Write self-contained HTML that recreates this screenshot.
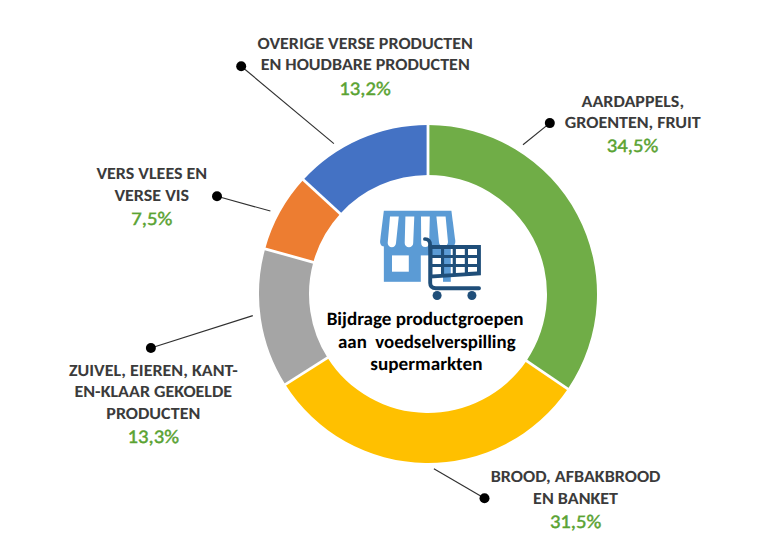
<!DOCTYPE html>
<html><head><meta charset="utf-8"><title>Bijdrage productgroepen aan voedselverspilling supermarkten</title>
<style>
html,body{margin:0;padding:0;background:#fff;}
body{width:768px;height:540px;overflow:hidden;}
svg{display:block;}
.lb{font-family:"Carlito","Liberation Sans",sans-serif;font-weight:bold;font-size:17.10px;fill:#3b3b3b;text-anchor:middle;text-rendering:geometricPrecision;}
.pc{font-family:"Carlito","Liberation Sans",sans-serif;font-weight:normal;font-size:19.3px;fill:#5AA332;stroke:#5AA332;stroke-width:0.45px;text-anchor:middle;text-rendering:geometricPrecision;}
.ct{font-family:"Carlito","Liberation Sans",sans-serif;font-weight:bold;font-size:18.82px;fill:#000;text-anchor:middle;white-space:pre;text-rendering:geometricPrecision;}
</style></head>
<body>
<svg width="768" height="540" viewBox="0 0 768 540">
<rect width="768" height="540" fill="#fff"/>
<!-- donut -->
<g>
<path fill="#70AD47" d="M428.00,125.00 A169,169 0 0 1 567.78,388.99 L526.42,360.89 A119,119 0 0 0 428.00,175.00 Z"/>
<path fill="#FFC000" d="M567.78,388.99 A169,169 0 0 1 285.31,384.55 L327.52,357.76 A119,119 0 0 0 526.42,360.89 Z"/>
<path fill="#A5A5A5" d="M285.31,384.55 A169,169 0 0 1 265.13,248.89 L313.32,262.24 A119,119 0 0 0 327.52,357.76 Z"/>
<path fill="#ED7D31" d="M265.13,248.89 A169,169 0 0 1 303.36,179.87 L340.24,213.64 A119,119 0 0 0 313.32,262.24 Z"/>
<path fill="#4472C4" d="M303.36,179.87 A169,169 0 0 1 428.00,125.00 L428.00,175.00 A119,119 0 0 0 340.24,213.64 Z"/>
<g stroke="#fff" stroke-width="2.8">
<line x1="428.00" y1="122.00" x2="428.00" y2="178.00"/>
<line x1="570.26" y1="390.68" x2="523.94" y2="359.20"/>
<line x1="282.78" y1="386.16" x2="330.06" y2="356.16"/>
<line x1="262.24" y1="248.09" x2="316.21" y2="263.04"/>
<line x1="301.15" y1="177.84" x2="342.45" y2="215.66"/>
</g>
</g>
<!-- leader lines -->
<g stroke="#303030" stroke-width="1.15" fill="none">
<line x1="241.2" y1="66.2" x2="333.9" y2="143.6"/>
<line x1="549.8" y1="123.1" x2="523" y2="144.7"/>
<line x1="217" y1="196.3" x2="270.4" y2="211"/>
<line x1="150.9" y1="348" x2="252.8" y2="315.6"/>
<line x1="484.5" y1="498.3" x2="433.9" y2="468.8"/>
</g>
<g fill="#000">
<circle cx="241.2" cy="66.2" r="5"/>
<circle cx="549.8" cy="123.1" r="5"/>
<circle cx="217" cy="196.3" r="5"/>
<circle cx="150.9" cy="348" r="5"/>
<circle cx="484.5" cy="498.3" r="5"/>
</g>
<!-- labels -->
<text class="lb" x="365.2" y="48.8" textLength="215.27" lengthAdjust="spacingAndGlyphs">OVERIGE VERSE PRODUCTEN</text>
<text class="lb" x="365.2" y="70" textLength="209.11" lengthAdjust="spacingAndGlyphs">EN HOUDBARE PRODUCTEN</text>
<text class="pc" x="365" y="94.8" textLength="51.41" lengthAdjust="spacingAndGlyphs">13,2%</text>

<text class="lb" x="632.8" y="106.6" textLength="102.48" lengthAdjust="spacingAndGlyphs">AARDAPPELS,</text>
<text class="lb" x="632.8" y="127.5" textLength="135.94" lengthAdjust="spacingAndGlyphs">GROENTEN, FRUIT</text>
<text class="pc" x="632.5" y="152.0" textLength="51.41" lengthAdjust="spacingAndGlyphs">34,5%</text>

<text class="lb" x="151.8" y="179.2" textLength="110.81" lengthAdjust="spacingAndGlyphs">VERS VLEES EN</text>
<text class="lb" x="151.8" y="200.6" textLength="74.70" lengthAdjust="spacingAndGlyphs">VERSE VIS</text>
<text class="pc" x="151.8" y="224.9" textLength="41.02" lengthAdjust="spacingAndGlyphs">7,5%</text>

<text class="lb" x="153.3" y="376.1" textLength="168.81" lengthAdjust="spacingAndGlyphs">ZUIVEL, EIEREN, KANT-</text>
<text class="lb" x="153.3" y="397.2" textLength="157.62" lengthAdjust="spacingAndGlyphs">EN-KLAAR GEKOELDE</text>
<text class="lb" x="153.3" y="418.7" textLength="93.98" lengthAdjust="spacingAndGlyphs">PRODUCTEN</text>
<text class="pc" x="153.3" y="442.7" textLength="51.41" lengthAdjust="spacingAndGlyphs">13,3%</text>

<text class="lb" x="575.6" y="482.3" textLength="169.64" lengthAdjust="spacingAndGlyphs">BROOD, AFBAKBROOD</text>
<text class="lb" x="575.6" y="503.5" textLength="84.92" lengthAdjust="spacingAndGlyphs">EN BANKET</text>
<text class="pc" x="575.6" y="527.8" textLength="51.41" lengthAdjust="spacingAndGlyphs">31,5%</text>

<!-- center text -->
<text class="ct" x="425.1" y="324.5" textLength="196.9" lengthAdjust="spacingAndGlyphs">Bijdrage productgroepen</text>
<text class="ct" x="426.8" y="347.7" textLength="177.6" lengthAdjust="spacingAndGlyphs">aan  voedselverspilling</text>
<text class="ct" x="426.4" y="370.1" textLength="112.12" lengthAdjust="spacingAndGlyphs">supermarkten</text>

<!-- store icon -->
<g fill="#5B9BD5">
<path d="M383.85,210.75 H451.4 L455.3,241 Q455.8,246.5 450.5,246.5 H385 Q379.6,246.5 380.1,241 Z"/>
<rect x="383.85" y="244" width="66.95" height="37.8"/>
</g>
<g fill="#fff">
<path d="M390,216.6 H398.8 L396,243 A4.15,4.15 0 0 1 387.7,243 Z"/>
<path d="M405.4,216.6 H414.3 L413.2,243 A4.25,4.25 0 0 1 404.7,243 Z"/>
<path d="M421,216.6 H429.8 L429.2,243 A4,4 0 0 1 421.2,243 Z"/>
<path d="M436.4,216.6 H445.6 L448,242 A4.5,4.5 0 0 1 439,242 Z"/>
<rect x="392" y="255.4" width="16.8" height="16.3"/>
<rect x="420.8" y="255.4" width="22.2" height="28"/>
</g>
<!-- cart -->

<g fill="#1F4E79">
<path fill-rule="evenodd" d="M428.5,244.9 H480.9 V275.2 L430,278.6 Z
M432.4,249 H441 V255 H432.4 Z M444.1,249 H452.7 V255 H444.1 Z M455.9,249 H464.8 V255 H455.9 Z M468,249 H477 V255 H468 Z
M432.4,258 H441 V263.9 H432.4 Z M444.1,258 H452.7 V263.9 H444.1 Z M455.9,258 H464.8 V263.9 H455.9 Z M468,258 H477 V263.9 H468 Z
M432.4,267 H441 V274 L432.4,274.6 Z M444.1,267 H452.7 V273.2 L444.1,273.8 Z M455.9,267 H464.8 V272.4 L455.9,273 Z M468,267 H477 V271.5 L468,272.1 Z"/>
<circle cx="437.1" cy="295.5" r="4.5"/>
<circle cx="471.9" cy="295.5" r="4.5"/>
</g>
<g fill="none" stroke="#1F4E79" stroke-linecap="round">
<path d="M424.9,239 Q430.1,239 430.1,245" stroke-width="3.7"/>
<path d="M430.2,246 V283 Q430.2,288.2 436,288.2 H479" stroke-width="3.9"/>
</g>
</svg>
</body></html>
